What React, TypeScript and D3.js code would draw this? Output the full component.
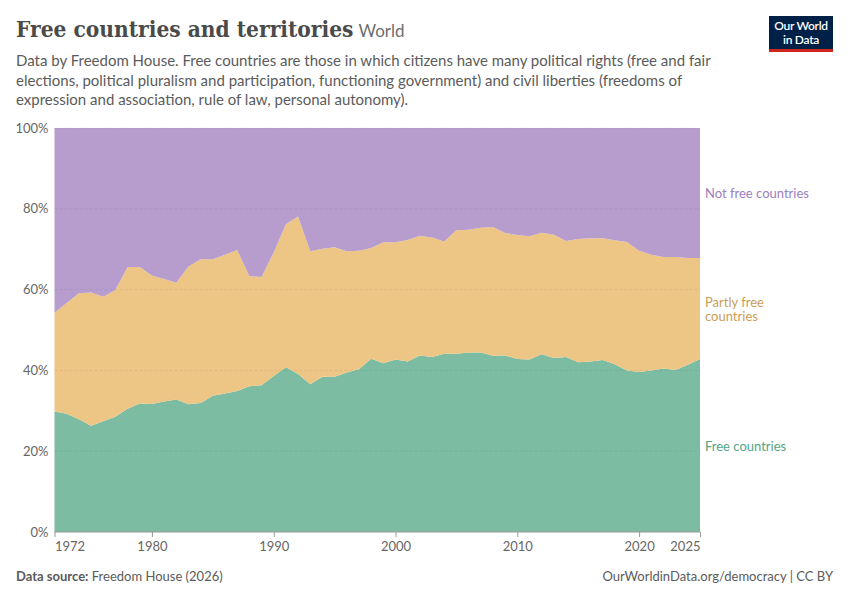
import React, { useEffect, useRef } from 'react';
import * as d3 from 'd3';

const years = [
  1972, 1973, 1974, 1975, 1976, 1977, 1978, 1979, 1980, 1981,
  1982, 1983, 1984, 1985, 1986, 1987, 1988, 1989, 1990, 1991,
  1992, 1993, 1994, 1995, 1996, 1997, 1998, 1999, 2000, 2001,
  2002, 2003, 2004, 2005, 2006, 2007, 2008, 2009, 2010, 2011,
  2012, 2013, 2014, 2015, 2016, 2017, 2018, 2019, 2020, 2021,
  2022, 2023, 2024, 2025,
];

// share of countries (%)
const freeShare = [
  29.8, 29.3, 27.9, 26.3, 27.4, 28.5, 30.5, 31.8, 31.7, 32.3,
  32.8, 31.6, 31.9, 33.7, 34.3, 34.9, 36.1, 36.3, 38.6, 40.8,
  39.1, 36.6, 38.4, 38.4, 39.5, 40.3, 42.9, 41.8, 42.7, 42.2,
  43.7, 43.3, 44.1, 44.1, 44.4, 44.4, 43.6, 43.7, 42.8, 42.7,
  44.0, 43.1, 43.3, 42.0, 42.2, 42.6, 41.5, 40.0, 39.6, 40.0,
  40.5, 40.1, 41.4, 42.8,
];

const partlyFreeShare = [
  24.5, 27.4, 31.2, 33.0, 30.8, 31.4, 35.1, 33.8, 31.8, 30.3,
  28.9, 34.1, 35.6, 33.8, 34.3, 34.9, 27.2, 26.8, 30.6, 35.4,
  39.0, 32.9, 31.7, 32.1, 30.0, 29.3, 27.4, 29.9, 29.0, 30.1,
  29.6, 29.6, 27.8, 30.6, 30.4, 30.9, 31.9, 30.3, 30.7, 30.5,
  30.1, 30.5, 28.7, 30.5, 30.5, 30.1, 30.7, 31.8, 30.0, 28.6,
  27.6, 28.0, 26.4, 25.0,
];

const notFreeShare = [
  45.7, 43.3, 40.9, 40.7, 41.8, 40.1, 34.4, 34.4, 36.5, 37.4,
  38.3, 34.3, 32.5, 32.5, 31.4, 30.2, 36.7, 36.9, 30.8, 23.8,
  21.9, 30.5, 29.9, 29.5, 30.5, 30.4, 29.7, 28.3, 28.3, 27.7,
  26.7, 27.1, 28.1, 25.3, 25.2, 24.7, 24.5, 26.0, 26.5, 26.8,
  25.9, 26.4, 28.0, 27.5, 27.3, 27.3, 27.8, 28.2, 30.4, 31.4,
  31.9, 31.9, 32.2, 32.2,
];

const xTicks = [1972, 1980, 1990, 2000, 2010, 2020, 2025];
const yTicks = [0, 20, 40, 60, 80, 100];

const seriesKeys = ['free', 'partly', 'notFree'];
const seriesFill: Record<string, string> = {
  free: '#7BBCA2',
  partly: '#EDC584',
  notFree: '#B69DCD',
};
const seriesText: Record<string, string> = {
  free: '#55A382',
  partly: '#C99D55',
  notFree: '#9B80C0',
};
const seriesLabel: Record<string, string[]> = {
  free: ['Free countries'],
  partly: ['Partly free', 'countries'],
  notFree: ['Not free countries'],
};

const subtitleLines = [
  'Data by Freedom House. Free countries are those in which citizens have many political rights (free and fair',
  'elections, political pluralism and participation, functioning government) and civil liberties (freedoms of',
  'expression and association, rule of law, personal autonomy).',
];

const sans = 'Lato, "Noto Sans", sans-serif';

export default function App() {
  const svgRef = useRef<SVGSVGElement>(null);

  useEffect(() => {
    document.body.style.margin = '0';
    if (!svgRef.current) return;
    const width = 850;
    const height = 600;
    const margin = { top: 128, right: 150, bottom: 68, left: 54.5 };

    const root = d3.select(svgRef.current);
    root.selectAll('*').remove();
    root.attr('width', width).attr('height', height);

    const rows = years.map((year, i) => ({
      year,
      free: freeShare[i],
      partly: partlyFreeShare[i],
      notFree: notFreeShare[i],
    }));

    const x = d3.scaleLinear()
      .domain([years[0], years[years.length - 1]])
      .range([margin.left, width - margin.right]);
    const y = d3.scaleLinear()
      .domain([0, 100])
      .range([height - margin.bottom, margin.top]);

    const stacked = d3.stack<any>()
      .keys(seriesKeys)
      .offset(d3.stackOffsetExpand)(rows);

    const area = d3.area<any>()
      .x(d => x(d.data.year))
      .y0(d => y(d[0] * 100))
      .y1(d => y(d[1] * 100));

    root.append('g')
      .selectAll('path')
      .data(stacked)
      .join('path')
      .attr('d', area)
      .attr('fill', d => seriesFill[d.key]);

    // grid lines over the areas
    root.append('g')
      .selectAll('line')
      .data(yTicks.filter(t => t > 0))
      .join('line')
      .attr('x1', margin.left)
      .attr('x2', width - margin.right)
      .attr('y1', d => y(d))
      .attr('y2', d => y(d))
      .attr('stroke', '#000')
      .attr('stroke-opacity', 0.06)
      .attr('stroke-dasharray', '3,2');

    root.append('g')
      .selectAll('text')
      .data(yTicks)
      .join('text')
      .attr('x', margin.left - 6)
      .attr('y', d => y(d))
      .attr('dy', '0.35em')
      .attr('text-anchor', 'end')
      .attr('font-family', sans)
      .attr('font-size', 13)
      .attr('fill', '#666')
      .text(d => `${d}%`);

    const xAxis = root.append('g')
      .attr('transform', `translate(0,${height - margin.bottom})`)
      .call(d3.axisBottom(x).tickValues(xTicks).tickFormat(d3.format('d')).tickSize(5).tickPadding(5))
      .call(g => g.select('.domain').attr('stroke', '#999').attr('d', `M${margin.left},0H${width - margin.right}`))
      .call(g => g.selectAll('.tick line').attr('stroke', '#999'))
      .call(g => g.selectAll('.tick text')
        .attr('fill', '#666')
        .attr('font-family', sans)
        .attr('font-size', 13));
    xAxis.selectAll<SVGTextElement, number>('.tick text')
      .attr('text-anchor', d => (d === years[0] ? 'start' : d === years[years.length - 1] ? 'end' : 'middle'));

    // labels at the right
    const labelY: Record<string, number> = { free: 446, partly: 302, notFree: 193 };
    seriesKeys.forEach(key => {
      const t = root.append('text')
        .attr('x', width - margin.right + 5)
        .attr('y', labelY[key])
        .attr('dy', '0.35em')
        .attr('font-family', sans)
        .attr('font-size', 13)
        .attr('fill', seriesText[key]);
      seriesLabel[key].forEach((line, i) => {
        t.append('tspan')
          .attr('x', width - margin.right + 5)
          .attr('dy', i === 0 ? '0.35em' : '1.1em')
          .text(line);
      });
    });

    // header
    const title = root.append('text')
      .attr('x', 16)
      .attr('y', 37)
      .attr('font-family', '"DejaVu Serif Condensed", "DejaVu Serif", serif')
      .attr('font-size', 22.5)
      .attr('fill', '#4a4a4a');
    title.append('tspan').attr('font-weight', 600).text('Free countries and territories');
    title.append('tspan')
      .attr('dx', 5)
      .attr('font-family', sans)
      .attr('font-size', 17)
      .attr('fill', '#6e6e6e')
      .text('World');

    root.append('g')
      .selectAll('text')
      .data(subtitleLines)
      .join('text')
      .attr('x', 16)
      .attr('y', (d, i) => 66 + i * 19.5)
      .attr('font-family', sans)
      .attr('font-size', 15)
      .attr('fill', '#5b5b5b')
      .text(d => d);

    // logo
    const logo = root.append('g');
    logo.append('rect').attr('x', 769).attr('y', 16).attr('width', 64).attr('height', 36).attr('fill', '#002147');
    logo.append('rect').attr('x', 769).attr('y', 49).attr('width', 64).attr('height', 3).attr('fill', '#ce261e');
    [['Our World', 30], ['in Data', 44]].forEach(([txt, ty]) => {
      logo.append('text')
        .attr('x', 801)
        .attr('y', ty as number)
        .attr('text-anchor', 'middle')
        .attr('font-family', sans)
        .attr('font-size', 12)
        .attr('font-weight', 600)
        .attr('fill', '#fff')
        .attr('letter-spacing', -0.3)
        .text(txt as string);
    });

    // footer
    const src = root.append('text')
      .attr('x', 16)
      .attr('y', 581)
      .attr('font-family', sans)
      .attr('font-size', 13)
      .attr('fill', '#5b5b5b');
    src.append('tspan').attr('font-weight', 700).text('Data source:');
    src.append('tspan').text(' Freedom House (2026)');

    root.append('text')
      .attr('x', 833)
      .attr('y', 581)
      .attr('text-anchor', 'end')
      .attr('font-family', sans)
      .attr('font-size', 13)
      .attr('fill', '#5b5b5b')
      .text('OurWorldinData.org/democracy | CC BY');
  }, []);

  return (
    <div style={{ width: 850, height: 600, background: '#fff' }}>
      <svg ref={svgRef} style={{ display: 'block' }} />
    </div>
  );
}
